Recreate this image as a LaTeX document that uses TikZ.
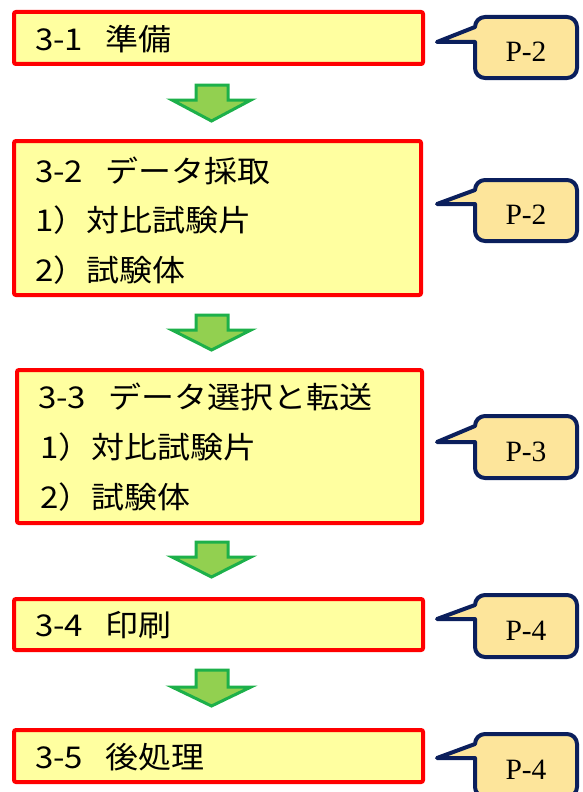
\documentclass[tikz,border=0pt]{standalone}
\usepackage{fontspec}
\setmainfont{Liberation Serif}
\newfontfamily\jp[FakeStretch=1.1]{Noto Sans CJK JP}
\definecolor{boxfill}{HTML}{FFFFA0}
\definecolor{boxred}{HTML}{FF0000}
\definecolor{calfill}{HTML}{FDE59B}
\definecolor{navy}{HTML}{0B1F5C}
\definecolor{agreen}{HTML}{1DB04A}
\definecolor{afill}{HTML}{92D050}
\tikzset{
  stepbox/.style={draw=boxred, fill=boxfill, line width=4pt, rounded corners=2pt},
  jptext/.style={anchor=west, inner sep=0pt, font=\jp\fontsize{30}{36}\selectfont},
  callshape/.style={draw=navy, fill=calfill, line width=4pt, line join=round},
  ptext/.style={inner sep=0pt, font=\fontsize{29.5}{34}\selectfont},
  garrowshape/.style={draw=agreen, fill=afill, line width=3pt, line join=miter},
}
\newcommand\pcallout[5]{%
  \coordinate (#5tip) at (437,#1);
  \draw[callshape] (#5tip) -- (475,#2+10) arc[start angle=180,end angle=270,radius=10]
    -- (567,#2) arc[start angle=270,end angle=360,radius=10]
    -- (577,#3-10) arc[start angle=0,end angle=90,radius=10]
    -- (485,#3) arc[start angle=90,end angle=180,radius=10]
    -- (475,#1) -- cycle;
  \node[ptext] (#5) at (526,{(#2+#3)/2+4.5}) {#4};}
\newcommand\garrow[4]{%
  \draw[garrowshape] (196,#1) -- (228,#1) -- (228,#2) -- (251,#2) -- (211.5,#3)
    -- (172,#2) -- (196,#2) -- cycle;
  \coordinate (#4) at (211.5,#3);}
\begin{document}
\begin{tikzpicture}[x=1pt,y=-1pt]
\useasboundingbox (0,0) rectangle (582,792);
% step boxes
\draw[stepbox] (14,12) rectangle (423,64);
\draw[stepbox] (14,141) rectangle (421,295);
\draw[stepbox] (17,370) rectangle (422,523);
\draw[stepbox] (14,599) rectangle (423,650);
\draw[stepbox] (14,730) rectangle (423,782);
% texts
\node[jptext] (s1) at (35,39) {3-1\hspace{0.75em}準備};
\node[jptext] (s2a) at (35,171) {3-2\hspace{0.75em}データ採取};
\node[jptext] (s2b) at (35,220) {1）対比試験片};
\node[jptext] (s2c) at (35,270) {2）試験体};
\node[jptext] (s3a) at (38,397) {3-3\hspace{0.75em}データ選択と転送};
\node[jptext] (s3b) at (40,447) {1）対比試験片};
\node[jptext] (s3c) at (40,497) {2）試験体};
\node[jptext] (s4) at (35,625) {3-4\hspace{0.75em}印刷};
\node[jptext] (s5) at (35,757) {3-5\hspace{0.75em}後処理};
% arrows
\garrow{85}{100}{121}{a1}
\garrow{315}{330}{350}{a2}
\garrow{542}{557}{577}{a3}
\garrow{670}{687}{706}{a4}
% callouts
\pcallout{42}{17}{78}{P-2}{c1}
\pcallout{204}{180}{241}{P-2}{c2}
\pcallout{442}{416}{478}{P-3}{c3}
\pcallout{619}{595}{657}{P-4}{c4}
\pcallout{758}{734}{797}{P-4}{c5}
\end{tikzpicture}
\end{document}
